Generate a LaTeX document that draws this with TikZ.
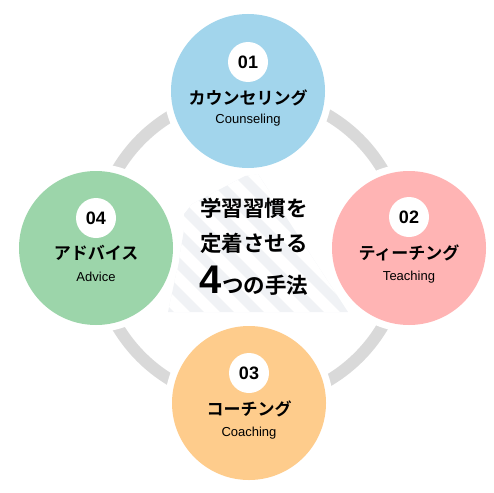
\documentclass[tikz,border=0pt]{standalone}
\usepackage{fontspec}
\setmainfont{Liberation Sans}
\newfontfamily\jp{Noto Sans CJK JP}[BoldFont={Noto Sans CJK JP Bold}]
\definecolor{cblue}{HTML}{A2D5EC}
\definecolor{cpink}{HTML}{FFB4B4}
\definecolor{corange}{HTML}{FECC8C}
\definecolor{cgreen}{HTML}{9CD5AA}
\definecolor{cring}{HTML}{D9D9D9}
\definecolor{cbg}{HTML}{F0F2F5}
\begin{document}
\begin{tikzpicture}[x=1pt,y=-1pt,
  circ/.style={circle, minimum size=154pt, inner sep=0pt, preaction={draw=white, line width=14pt}},
  badge/.style={circle, fill=white, minimum size=40pt, inner sep=0pt, font=\bfseries\fontsize{18}{18}\selectfont},
  jtitle/.style={inner sep=0pt, font=\jp\bfseries\fontsize{17}{17}\selectfont},
  etitle/.style={inner sep=0pt, font=\fontsize{13}{13}\selectfont},
  ctext/.style={inner sep=0pt, font=\jp\bfseries\fontsize{21.5}{21.5}\selectfont}]
\useasboundingbox (0,0) rectangle (494,492);
% faint background shape
\begin{scope}
  \clip (168,312) -- (178,265) -- (184,230) -- (184,214) -- (192,204) -- (245,176) -- (258,174) -- (348,312) -- cycle;
  \fill[cbg] (150,170) rectangle (360,320);
  \foreach \k in {-190,-160,...,190}
    \draw[white, line width=11pt] (100+\k,100) -- (450+\k,450);
\end{scope}
% ring
\draw[cring, line width=12pt] (250,248) circle[radius=154pt];
% circles
\node[circ, fill=cblue]   (c1) at (248,91)  {};
\node[circ, fill=cpink]   (c2) at (409,248) {};
\node[circ, fill=corange] (c3) at (249,403) {};
\node[circ, fill=cgreen]  (c4) at (96,248)  {};
% labels
\node[badge]  (n1) at ([yshift=29pt]c1.center) {01};
\node[jtitle] (j1) at ([yshift=-7pt]c1.center) {カウンセリング};
\node[etitle] (e1) at ([yshift=-29pt]c1.center) {Counseling};
\node[badge]  (n2) at ([yshift=31pt]c2.center) {02};
\node[jtitle] (j2) at ([yshift=-5pt]c2.center) {ティーチング};
\node[etitle] (e2) at ([yshift=-29pt]c2.center) {Teaching};
\node[badge]  (n3) at ([yshift=30pt]c3.center) {03};
\node[jtitle] (j3) at ([yshift=-6pt]c3.center) {コーチング};
\node[etitle] (e3) at ([yshift=-30pt]c3.center) {Coaching};
\node[badge]  (n4) at ([yshift=30pt]c4.center) {04};
\node[jtitle] (j4) at ([yshift=-5pt]c4.center) {アドバイス};
\node[etitle] (e4) at ([yshift=-29pt]c4.center) {Advice};
% center text
\node[ctext] (t1) at (254,208) {学習習慣を};
\node[ctext] (t2) at (254,243) {定着させる};
\node[ctext] (t3) at (254,281) {{\fontspec{Liberation Sans}\bfseries\fontsize{40}{40}\selectfont 4}つの手法};
\end{tikzpicture}
\end{document}
